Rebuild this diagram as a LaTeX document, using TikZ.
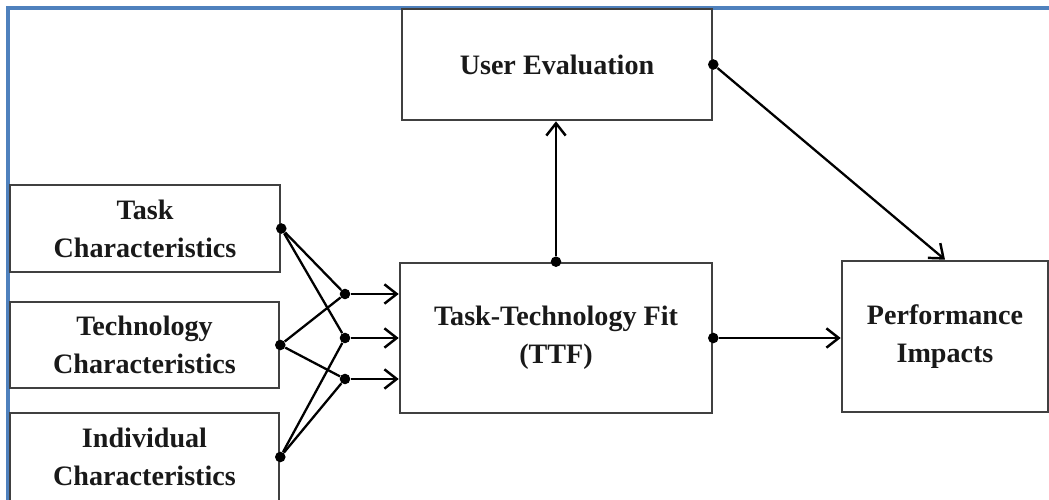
\documentclass[tikz,border=0pt]{standalone}
\usepackage{fontspec}
\setmainfont{Liberation Serif}
\usetikzlibrary{arrows.meta}
\definecolor{frameblue}{RGB}{79,129,189}

\begin{document}
\begin{tikzpicture}[x=0.02cm,y=-0.02cm,
    box/.style={draw=black!75, line width=1.5pt, align=center, inner sep=0pt,
        font=\fontsize{16}{21.5}\selectfont\bfseries, text=black!90},
    dot/.style={circle, fill=black, inner sep=0pt, minimum size=6pt},
    wire/.style={line width=1.3pt},
    link/.style={line width=1.3pt, -{Straight Barb[length=7pt,width=11pt,line width=1.4pt]}}]
\useasboundingbox (0,0) rectangle (1049,500);

    \draw[frameblue, line width=2pt] (8,502) -- (8,8) -- (1051,8);

    \node[box, minimum width=5.4cm, minimum height=1.74cm] (task) at (145,228.5) {Task\\Characteristics};
    \node[box, minimum width=5.38cm, minimum height=1.72cm] (tech) at (144.5,345) {Technology\\Characteristics};
    \node[box, minimum width=5.38cm, minimum height=1.76cm] (indiv) at (144.5,457) {Individual\\Characteristics};
    \node[box, minimum width=6.2cm, minimum height=2.22cm] (ue) at (557,64.5) {User Evaluation};
    \node[box, minimum width=6.24cm, minimum height=3cm] (ttf) at (556,338) {Task-Technology Fit\\(TTF)};
    \node[box, minimum width=4.12cm, minimum height=3.02cm] (perf) at (945,336.5) {Performance\\Impacts};

    \node[dot] (taskdot) at (task.east) {};
    \node[dot] (techdot) at (tech.east) {};
    \node[dot] (indivdot) at (indiv.east) {};
    \node[dot] (j1) at (345,294) {};
    \node[dot] (j2) at (345,338) {};
    \node[dot] (j3) at (345,379) {};
    \node[dot] (ttftop) at (ttf.north) {};
    \node[dot] (ttfdot) at (ttf.east) {};
    \node[dot] (uedot) at (ue.east) {};

    \draw[wire] (taskdot) -- (j1);
    \draw[wire] (taskdot) -- (j2);
    \draw[wire] (techdot) -- (j1);
    \draw[wire] (techdot) -- (j3);
    \draw[wire] (indivdot) -- (j2);
    \draw[wire] (indivdot) -- (j3);

    \draw[link] (j1) -- (j1 -| ttf.west);
    \draw[link] (j2) -- (j2 -| ttf.west);
    \draw[link] (j3) -- (j3 -| ttf.west);
    \draw[link] (ttftop) -- (ttftop |- ue.south);
    \draw[link] (ttfdot) -- (ttfdot -| perf.west);
    \draw[link] (uedot) -- (perf.north);
\end{tikzpicture}
\end{document}
